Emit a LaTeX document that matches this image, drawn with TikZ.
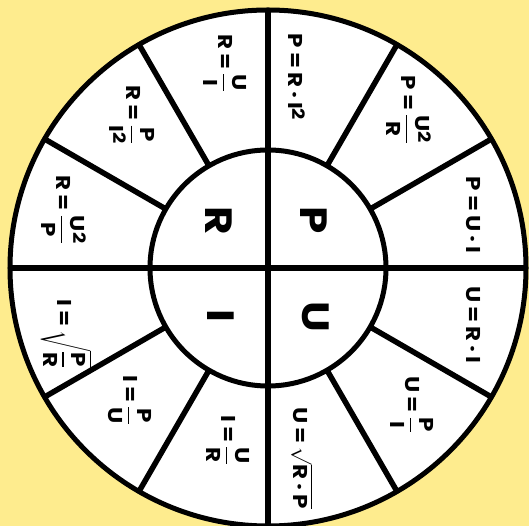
\documentclass[tikz,border=0pt]{standalone}
\usepackage{amsmath}
\usepackage{fontspec}
\setmainfont{Poppins}[FakeStretch=1.15]
\usetikzlibrary{positioning}

\definecolor{wheelbg}{RGB}{254,236,142}
\newcommand\gp{\hspace{4pt}}
\newcommand\fr[2]{$\genfrac{}{}{1.6pt}{0}{\text{#1}}{\text{#2}}$}
\newcommand\sq{\raisebox{.3ex}{\scalebox{.85}{2}}}

\begin{document}
\begin{tikzpicture}[x=1pt, y=1pt,
  rim/.style={line width=5pt},
  spoke/.style={line width=5.5pt},
  qty/.style={rotate=-90, inner sep=0pt, font=\fontsize{38}{42}\selectfont\bfseries},
  fml/.style={rotate=-90, inner sep=1pt, font=\fontsize{20}{24}\selectfont\bfseries}]
\fill[wheelbg] (-268,268) rectangle (261,-258);
\useasboundingbox (-268,268) rectangle (261,-258);
\fill[white] (0,0) circle (258);
% axes and spokes
\draw[spoke] (180:258) -- (0:258);
\draw[spoke] (90:258) -- (270:258);
\foreach \a in {30,60,120,150,210,240,300,330}
  \draw[spoke] (\a:118) -- (\a:258);
\draw[rim] (0,0) circle (118);
\draw[rim] (0,0) circle (258);
% centre
\node[qty] (R) at (-49,47) {R};
\node[qty] (P) at (46,48) {P};
\node[qty] (I) at (-47,-48) {I};
\node[qty] (U) at (48,-49) {U};
% ring, P quarter
\node[fml] (pri) at (29,191) {P\gp=\gp R\gp·\gp I\sq};
\node[fml] (pur) at (141,158) {P\gp=\gp\fr{U\sq}{R}};
\node[fml] (pui) at (205,53) {P\gp=\gp U\gp·\gp I};
% U quarter
\node[fml] (uri) at (205,-57) {U\gp=\gp R\gp·\gp I};
\node[fml] (upi) at (144,-137) {U\gp=\gp\fr{P}{I}};
\node[fml] (urp) at (34,-190) {U\gp=\gp$\sqrt{\text{R\gp·\gp P}}$};
% I quarter
\node[fml] (iur) at (-40,-172) {I\gp=\gp\fr{U}{R}};
\node[fml] (ipu) at (-138,-132) {I\gp=\gp\fr{P}{U}};
\node[fml] (ipr) at (-202,-66) {I\gp=\gp$\sqrt{\genfrac{}{}{1.6pt}{0}{\text{P}}{\text{R}}}$};
% R quarter
\node[fml] (rup) at (-204,58) {R\gp=\gp\fr{U\sq}{P}};
\node[fml] (rpi) at (-136,153) {R\gp=\gp\fr{P}{I\sq}};
\node[fml] (rui) at (-43,205) {R\gp=\gp\fr{U}{I}};
\end{tikzpicture}
\end{document}
